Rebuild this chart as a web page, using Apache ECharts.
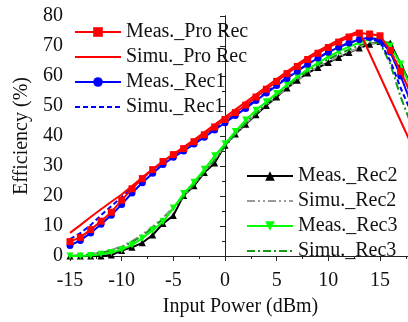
<!DOCTYPE html>
<html><head><meta charset="utf-8">
<script src="https://cdn.jsdelivr.net/npm/echarts@6/dist/echarts.min.js"></script>
<style>html,body{margin:0;padding:0;overflow:hidden;background:#fff;width:408px;height:322px}#c{width:420px;height:322px}</style>
</head><body><div id="c"></div>
<script>
var xs = [-15,-14,-13,-12,-11,-10,-9,-8,-7,-6,-5,-4,-3,-2,-1,0,1,2,3,4,5,6,7,8,9,10,11,12,13,14,15,16,17,18];
var measProRec = [4.8,6.2,8.8,11.6,14.6,18.6,22.4,25.8,28.8,31.5,33.8,35.8,38.1,40.4,43.0,45.5,47.8,50.3,53.0,55.6,58.2,60.8,63.2,65.5,67.6,69.5,71.3,73.0,74.3,74.0,73.4,68.5,61.5,54.0];
var simuProRec = [7.7,10.3,13.0,15.6,18.1,20.5,23.3,26.2,29.0,31.6,34.0,36.3,38.7,41.2,43.8,46.3,48.8,51.3,53.8,56.4,59.0,61.5,63.9,66.2,68.3,70.2,72.0,73.6,75.0,null,null,null,null,37.5];
var measRec1 = [3.5,5.2,7.7,10.6,13.6,17.2,21.0,24.4,27.6,30.5,32.9,35.0,37.3,39.6,42.0,44.4,46.8,49.2,51.8,54.3,56.8,59.2,61.6,63.9,66.0,67.9,69.6,71.0,72.2,72.8,72.0,68.0,60.0,51.0];
var simuRec1 = [5.6,7.6,10.3,13.6,16.6,19.6,22.8,25.9,28.6,31.2,33.4,35.4,37.6,39.9,42.3,44.7,47.1,49.6,52.1,54.6,57.1,59.5,61.8,64.0,66.1,68.0,69.7,71.0,72.0,72.4,71.5,65.0,56.0,48.0];
var measRec2 = [0,0,0,0,0.3,1.8,2.9,4.4,7.0,10.8,13.5,20.2,23.4,27.8,31.0,36.9,40.7,43.9,47.1,50.2,53.0,56.0,58.6,61.0,62.8,64.5,66.2,67.8,69.3,70.6,71.5,71.0,64.0,57.0];
var simuRec2 = [0,0.2,0.6,1.2,2.0,3.2,5.0,7.2,9.8,12.8,16.2,20.0,24.0,28.2,32.2,36.8,40.8,44.2,47.4,50.4,53.2,56.0,58.6,61.0,63.0,64.8,66.5,68.0,69.4,70.6,71.2,70.5,62.0,54.0];
var measRec3 = [0,0,0.2,0.6,1.2,2.1,3.7,5.9,8.6,11.4,16.0,20.8,24.6,28.9,33.4,37.4,41.5,45.3,48.6,51.4,54.2,57.1,59.8,62.2,64.4,66.4,68.2,69.8,71.1,72.2,72.8,70.0,64.0,56.0];
var simuRec3 = [0,0.2,0.5,1.0,1.8,2.9,4.6,6.8,9.4,12.4,15.8,19.7,23.8,28.0,32.0,36.5,40.6,44.2,47.6,50.8,53.7,56.6,59.2,61.6,63.7,65.6,67.3,68.8,70.2,71.2,71.0,64.0,53.0,44.0];
var names = ['Meas._Pro Rec','Simu._Pro Rec','Meas._Rec1','Simu._Rec1','Meas._Rec2','Simu._Rec2','Meas._Rec3','Simu._Rec3'];
var xTitle = 'Input Power (dBm)';
var yTitle = 'Efficiency (%)';

function pairs(v){ return xs.map(function(x,i){ return [x, v[i]]; }); }
var FONT = "'Liberation Serif', 'Times New Roman', serif";
var chart = echarts.init(document.getElementById('c'), null, {renderer:'canvas'});
function ser(name, vals, color, sym, lineType, z){
  return {
    name: name, type: 'line', data: pairs(vals), z: z,
    connectNulls: true,
    symbol: sym || 'none', symbolSize: 7, showSymbol: !!sym,
    lineStyle: {color: color, width: 2, type: lineType || 'solid'},
    itemStyle: {color: color},
    emphasis: {disabled: true}, animation: false
  };
}
function legItems(list){
  return list.map(function(n){
    return n.indexOf('Simu') === 0 ? {name: n, itemStyle: {opacity: 0}} : {name: n};
  });
}
var legText = {fontFamily: FONT, fontSize: 20, color: '#111', lineHeight: 20};
chart.setOption({
  animation: false,
  textStyle: {fontFamily: FONT},
  grid: {left: 70, right: 9, top: 16, bottom: 57},
  legend: [
    {data: legItems(names.slice(0,4)), orient: 'vertical', left: 74, top: 22, padding: 0, itemGap: 5, itemWidth: 46, itemHeight: 12, textStyle: legText, selectedMode: false},
    {data: legItems(names.slice(4)), orient: 'vertical', left: 246, top: 166, padding: 0, itemGap: 5, itemWidth: 46, itemHeight: 12, textStyle: legText, selectedMode: false}
  ],
  xAxis: [
    {type: 'value', min: -15, max: 18, interval: 5, position: 'bottom',
     name: xTitle, nameLocation: 'middle', nameGap: 41,
     nameTextStyle: {fontFamily: FONT, fontSize: 20, color: '#111'},
     axisLine: {show: true, lineStyle: {color: '#222', width: 1}},
     axisTick: {show: true, inside: false, length: 5, lineStyle: {color: '#222'}},
     minorTick: {show: true, splitNumber: 2, length: 3, lineStyle: {color: '#222'}},
     axisLabel: {fontFamily: FONT, fontSize: 20, color: '#111', margin: 15, showMaxLabel: false},
     splitLine: {show: false}},
    {type: 'value', min: -15, max: 18, interval: 5, position: 'top',
     axisLine: {show: true, lineStyle: {color: '#222', width: 1}},
     axisTick: {show: true, inside: true, length: 5, lineStyle: {color: '#222'}},
     minorTick: {show: false},
     axisLabel: {show: false}, splitLine: {show: false}}
  ],
  yAxis: [
    {type: 'value', min: 0, max: 80, interval: 10, position: 'left',
     name: yTitle, nameLocation: 'middle', nameGap: 38, nameRotate: 90,
     nameTextStyle: {fontFamily: FONT, fontSize: 20, color: '#111'},
     axisLine: {show: true, lineStyle: {color: '#222', width: 1}},
     axisTick: {show: true, inside: false, length: 5, lineStyle: {color: '#222'}},
     minorTick: {show: true, splitNumber: 2, length: 3, lineStyle: {color: '#222'}},
     axisLabel: {fontFamily: FONT, fontSize: 20, color: '#111', margin: 7},
     splitLine: {show: false}},
    {type: 'value', min: 0, max: 80, interval: 10, position: 'right',
     axisLine: {show: true, lineStyle: {color: '#222', width: 1}},
     axisTick: {show: true, inside: true, length: 5, lineStyle: {color: '#222'}},
     axisLabel: {show: false}, splitLine: {show: false}}
  ],
  series: [
    ser(names[4], measRec2, '#000000', 'triangle', 'solid', 2),
    ser(names[5], simuRec2, '#9a9a9a', null, [8,3,2,3,2,3], 2),
    ser(names[7], simuRec3, '#109a10', null, [8,3,2,3], 3),
    ser(names[6], measRec3, '#00ff00', 'path://M0,0 L10,0 L5,9 Z', 'solid', 3),
    ser(names[3], simuRec1, '#0000ff', null, [5,3], 4),
    ser(names[2], measRec1, '#0000ff', 'circle', 'solid', 4),
    ser(names[1], simuProRec, '#ff0000', null, 'solid', 5),
    ser(names[0], measProRec, '#ff0000', 'rect', 'solid', 5)
  ]
});
</script></body></html>
